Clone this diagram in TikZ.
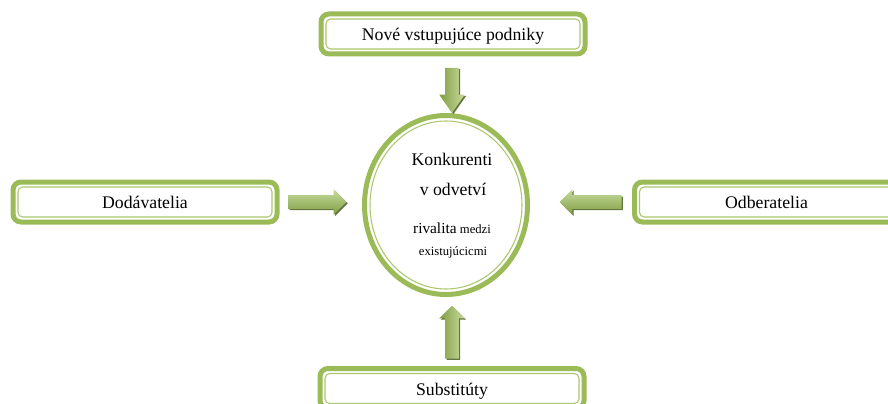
\documentclass[tikz,border=0pt]{standalone}
\usepackage{fontspec}
\setmainfont{Liberation Serif}
\usepackage{tikz}
\usetikzlibrary{shapes.geometric, shapes.arrows, shadows, positioning}
\definecolor{forcegreen}{RGB}{155, 187, 89}
\definecolor{linegreen}{RGB}{170, 200, 110}
\definecolor{arrowlight}{RGB}{200, 220, 160}
\definecolor{arrowdark}{RGB}{128, 158, 66}
\definecolor{arrowshade}{RGB}{84, 104, 42}

\begin{document}
\begin{tikzpicture}[
    x=0.75pt, y=-0.75pt,
    force/.style={rectangle, rounded corners=6pt, draw=forcegreen, line width=3.75pt, fill=white,
        outer sep=0pt, minimum width=198pt, minimum height=30pt, text height=10pt, text depth=0pt,
        font=\fontsize{13.3}{16}\selectfont},
    innerline/.style={draw=linegreen, line width=0.8pt},
    pusharrow/.style={single arrow, draw=none, inner sep=4.9pt,
        minimum width=18.75pt, single arrow head extend=4.5pt,
        drop shadow={shadow xshift=1pt, shadow yshift=-1pt, fill=arrowshade, opacity=0.9}},
    hpush/.style={pusharrow, top color=arrowlight, bottom color=arrowdark},
    vpush/.style={pusharrow, left color=arrowdark, right color=arrowlight}
]
\useasboundingbox (0,0) rectangle (888,403);

% Five forces
\node[force] (entrants) at (453,34) {Nové vstupujúce podniky};
\node[force] (suppliers) at (145,202) {Dodávatelia};
\node[force] (buyers) at (766.5,202) {Odberatelia};
\node[force] (substitutes) at (452,388.5) {Substitúty};

\foreach \f in {entrants, suppliers, buyers, substitutes} {
    \draw[innerline, rounded corners=3.5pt] ([shift={(5,5)}]\f.north west) rectangle ([shift={(-5,-5)}]\f.south east);
}

% Rivalry in the middle
\node[ellipse, draw=forcegreen, line width=3.75pt, fill=white, outer sep=0pt,
    minimum width=122.25pt, minimum height=134.25pt] (rivals) at (446,205) {};
\draw[innerline] (rivals.center) ellipse [x radius=76, y radius=84];

\node[anchor=base, font=\fontsize{13.3}{16}\selectfont] (rivals1) at (452,165) {Konkurenti};
\node[anchor=base, font=\fontsize{13.3}{16}\selectfont] (rivals2) at (453,195) {v odvetví};
\node[anchor=base] (rivals3) at (452,233)
    {{\fontsize{11.5}{14}\selectfont rivalita} {\fontsize{9.5}{12}\selectfont medzi}};
\node[anchor=base, font=\fontsize{9.5}{12}\selectfont] (rivals4) at (453,255) {existujúcicmi};

% Pressure arrows
\node[vpush, shape border rotate=270, minimum height=33.75pt, single arrow tip angle=70] (fromentrants) at (452,85.5) {};
\node[hpush, minimum height=43.5pt] (fromsuppliers) at (314,202) {};
\node[hpush, shape border rotate=180, minimum height=46.5pt] (frombuyers) at (594,202) {};
\node[vpush, shape border rotate=90, minimum height=39.75pt] (fromsubstitutes) at (452,335.5) {};
\end{tikzpicture}
\end{document}
